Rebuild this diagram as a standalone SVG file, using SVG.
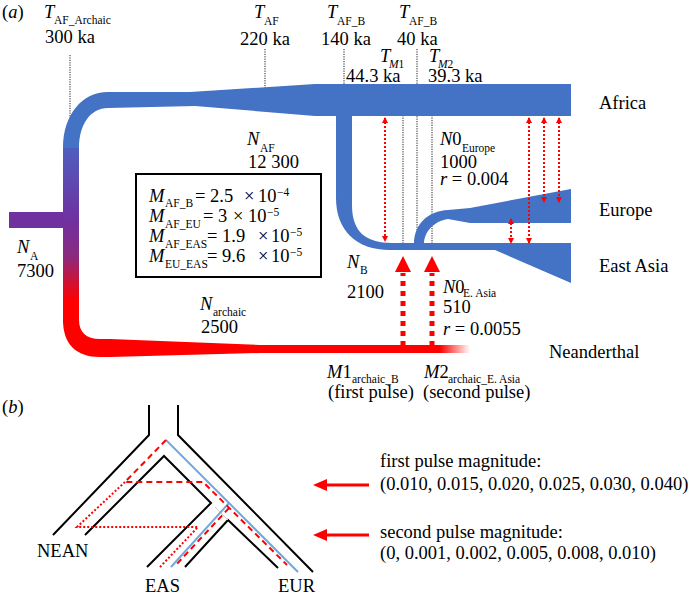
<svg xmlns="http://www.w3.org/2000/svg" width="692" height="598" viewBox="0 0 692 598">
<style>
text{font-family:"Liberation Serif","Times New Roman",serif;fill:#000}
.t{font-size:18.5px}
.it{font-size:18.5px;font-style:italic}
.sub{font-size:11.5px}
.sup{font-size:11.5px}
.tm{fill:none;stroke:#222;stroke-width:1;stroke-dasharray:1.2 1.2}
.blue{fill:#4472C4}
.mig{fill:none;stroke:#FF0000;stroke-width:2;stroke-dasharray:2 2}
.pulse{fill:none;stroke:#FF0000;stroke-width:5;stroke-dasharray:5 5}
.tree{fill:none;stroke:#000;stroke-width:2}
.bl{fill:none;stroke:#6FA8DC;stroke-width:2}
.rd{fill:none;stroke:#FF0000;stroke-width:2;stroke-dasharray:6 4}
.ro{fill:none;stroke:#FF0000;stroke-width:2;stroke-dasharray:2 2}
</style>
<defs>
<linearGradient id="vg" gradientUnits="userSpaceOnUse" x1="0" y1="147" x2="0" y2="322">
<stop offset="0" stop-color="#4F5FBE"/>
<stop offset="0.42" stop-color="#7030A0"/>
<stop offset="0.62" stop-color="#8A2A80"/>
<stop offset="0.88" stop-color="#FF0000"/>
<stop offset="1" stop-color="#FF0000"/>
</linearGradient>
<linearGradient id="fade" gradientUnits="userSpaceOnUse" x1="440" y1="0" x2="470" y2="0">
<stop offset="0" stop-color="#FF0000"/>
<stop offset="1" stop-color="#FF0000" stop-opacity="0"/>
</linearGradient>
<marker id="sh" viewBox="0 0 6 6" refX="5" refY="3" markerWidth="6" markerHeight="6" markerUnits="userSpaceOnUse" orient="auto-start-reverse">
<path d="M0,0 L6,3 L0,6 Z" fill="#FF0000"/>
</marker>
</defs>

<text x="2" y="18" class="t">(<tspan font-style="italic">a</tspan>)</text>
<text x="2" y="413" class="t">(<tspan font-style="italic">b</tspan>)</text>

<!-- time markers -->
<g id="time-lines">
<line class="tm" x1="70" y1="55" x2="70" y2="240"/>
<line class="tm" x1="265" y1="49" x2="265" y2="104"/>
<line class="tm" x1="344" y1="49" x2="344" y2="104"/>
<line class="tm" x1="417" y1="49" x2="417" y2="245"/>
<line class="tm" x1="403" y1="84" x2="403" y2="248"/>
<line class="tm" x1="432" y1="84" x2="432" y2="248"/>
</g>

<!-- population shapes -->
<g id="ancestral">
<rect x="9" y="212" width="56" height="16" fill="#7030A0"/>
<rect x="63" y="147" width="16" height="176" fill="url(#vg)"/>
</g>
<g id="africa">
<path class="blue" d="M63,148 C63,115 82,92 108,92 L190,92 L315,84 L571,84 L571,116 L315,116 L195,106 L108,108 C90,108 79,125 79,148 Z"/>
</g>
<g id="east-asia">
<path class="blue" d="M336,116 L352,116 L352,205 C352,232 366,243 392,243 L571,243 L571,283 L495,250 L390,250 C356,250 336,230 336,198 Z"/>
</g>
<g id="europe">
<path class="blue" d="M414,244 C414,224 428,211 448,210 L470,208 L571,189 L571,223 L470,223 L448,219 C434,221 424,232 424,244 Z"/>
</g>
<g id="neanderthal">
<path fill="url(#fade)" d="M63,320 C63,344 76,357 100,357 L110,357 L260,353 L470,353 L470,345 L260,345 L110,339 L100,339 C86,339 79,332 79,320 Z"/>
</g>

<!-- connectors -->
<g id="connectors">
<line class="mig" x1="385" y1="118" x2="385" y2="241" marker-start="url(#sh)" marker-end="url(#sh)"/>
<line class="mig" x1="529" y1="118" x2="529" y2="243" marker-start="url(#sh)" marker-end="url(#sh)"/>
<line class="mig" x1="544" y1="118" x2="544" y2="202" marker-start="url(#sh)" marker-end="url(#sh)"/>
<line class="mig" x1="559" y1="118" x2="559" y2="202" marker-start="url(#sh)" marker-end="url(#sh)"/>
<line class="mig" x1="511" y1="219" x2="511" y2="243" marker-start="url(#sh)" marker-end="url(#sh)"/>
<line class="pulse" x1="403" y1="346" x2="403" y2="273"/>
<polygon points="403,256 395,272 411,272" fill="#FF0000"/>
<line class="pulse" x1="432" y1="346" x2="432" y2="273"/>
<polygon points="432,256 424,272 440,272" fill="#FF0000"/>
</g>

<!-- labels (a) -->
<g id="labels-a">
<text x="44" y="18" class="it">T</text><text x="54" y="24" class="sub">AF_Archaic</text>
<text x="45" y="43" class="t">300 ka</text>
<text x="254" y="18" class="it">T</text><text x="264" y="25" class="sub">AF</text>
<text x="240" y="45" class="t">220 ka</text>
<text x="327" y="18" class="it">T</text><text x="337" y="25" class="sub">AF_B</text>
<text x="321" y="45" class="t">140 ka</text>
<text x="399" y="18" class="it">T</text><text x="409" y="25" class="sub">AF_B</text>
<text x="397" y="45" class="t">40 ka</text>
<text x="380" y="62" class="it">T</text><text x="389" y="68" class="sub"><tspan font-style="italic">M</tspan>1</text>
<text x="346" y="82" class="t">44.3 ka</text>
<text x="429" y="62" class="it">T</text><text x="438" y="68" class="sub"><tspan font-style="italic">M</tspan>2</text>
<text x="428" y="82" class="t">39.3 ka</text>

<text x="599" y="109" class="t">Africa</text>
<text x="599" y="216" class="t">Europe</text>
<text x="599" y="272" class="t">East Asia</text>
<text x="549" y="358" class="t">Neanderthal</text>

<text x="247" y="145" class="it">N</text><text x="260" y="152" class="sub">AF</text>
<text x="248" y="168" class="t">12 300</text>

<text x="17" y="253" class="it">N</text><text x="30" y="260" class="sub">A</text>
<text x="17" y="277" class="t">7300</text>

<text x="200" y="310" class="it">N</text><text x="213" y="316" class="sub">archaic</text>
<text x="201" y="333" class="t">2500</text>

<text x="347" y="268" class="it">N</text><text x="360" y="274" class="sub">B</text>
<text x="347" y="298" class="t">2100</text>

<text x="440" y="145" class="it">N<tspan font-style="normal">0</tspan></text><text x="462" y="152" class="sub">Europe</text>
<text x="440" y="168" class="t">1000</text>
<text x="440" y="185" class="t"><tspan font-style="italic">r</tspan> = 0.004</text>

<text x="443" y="293" class="it">N<tspan font-style="normal">0</tspan></text><text x="463" y="297" class="sub">E. Asia</text>
<text x="443" y="313" class="t">510</text>
<text x="443" y="335" class="t"><tspan font-style="italic">r</tspan> = 0.0055</text>

<text x="327" y="378" class="it">M<tspan font-style="normal">1</tspan></text><text x="352" y="383" class="sub">archaic_B</text>
<text x="328" y="398" class="t">(first pulse)</text>
<text x="424" y="378" class="it">M<tspan font-style="normal">2</tspan></text><text x="448" y="383" class="sub">archaic_E. Asia</text>
<text x="423" y="398" class="t">(second pulse)</text>
</g>

<g id="migration-box">
<rect x="136" y="174" width="185" height="103" fill="none" stroke="#000" stroke-width="2"/>
<text x="149" y="202" class="it">M</text><text x="165" y="207" class="sub">AF_B</text>
<text x="195" y="202" class="t">= 2.5</text><text x="244" y="202" class="t">×</text><text x="258" y="202" class="t">10</text><text x="277" y="196" class="sup">−4</text>
<text x="149" y="222" class="it">M</text><text x="165" y="228" class="sub">AF_EU</text>
<text x="203" y="222" class="t">= 3</text><text x="233" y="222" class="t">×</text><text x="248" y="222" class="t">10</text><text x="267" y="216" class="sup">−5</text>
<text x="149" y="242" class="it">M</text><text x="165" y="248" class="sub">AF_EAS</text>
<text x="207" y="242" class="t">= 1.9</text><text x="258" y="242" class="t">×</text><text x="271" y="242" class="t">10</text><text x="290" y="236" class="sup">−5</text>
<text x="149" y="262" class="it">M</text><text x="165" y="268" class="sub">EU_EAS</text>
<text x="207" y="262" class="t">= 9.6</text><text x="258" y="262" class="t">×</text><text x="271" y="262" class="t">10</text><text x="290" y="256" class="sup">−5</text>
</g>

<!-- (b) tree -->
<g id="tree">
<polyline class="tree" points="149,405 149,435 53,535"/>
<polyline class="tree" points="178,405 178,435 313,572"/>
<polyline class="tree" points="85,535 164,456 211,503 147,567"/>
<polyline class="tree" points="185,567 228,520 278,568"/>
<line x1="215" y1="507" x2="228" y2="520" stroke="#ccc" stroke-width="1"/>
<polyline class="bl" points="166,440 298,572"/>
<polyline class="bl" points="229,503 171,567"/>
<polyline class="ro" points="125,482 77,527 198,527 160,567"/>
<polyline class="rd" points="166,440 125,482 203,482 287,565"/>
<polyline class="rd" points="229,508 175,566"/>
</g>
<g id="tree-labels">
<text x="37" y="557" class="t">NEAN</text>
<text x="145" y="592" class="t">EAS</text>
<text x="278" y="592" class="t">EUR</text>
</g>

<g id="pulse-arrows">
<line x1="369" y1="485" x2="324" y2="485" stroke="#FF0000" stroke-width="3"/>
<polygon points="313,485 327,479 327,491" fill="#FF0000"/>
<line x1="369" y1="535" x2="324" y2="535" stroke="#FF0000" stroke-width="3"/>
<polygon points="313,535 327,529 327,541" fill="#FF0000"/>
</g>
<g id="pulse-text">
<text x="380" y="467" class="t">first pulse magnitude:</text>
<text x="380" y="490" class="t">(0.010, 0.015, 0.020, 0.025, 0.030, 0.040)</text>
<text x="380" y="538" class="t">second pulse magnitude:</text>
<text x="380" y="559" class="t">(0, 0.001, 0.002, 0.005, 0.008, 0.010)</text>
</g>
</svg>
